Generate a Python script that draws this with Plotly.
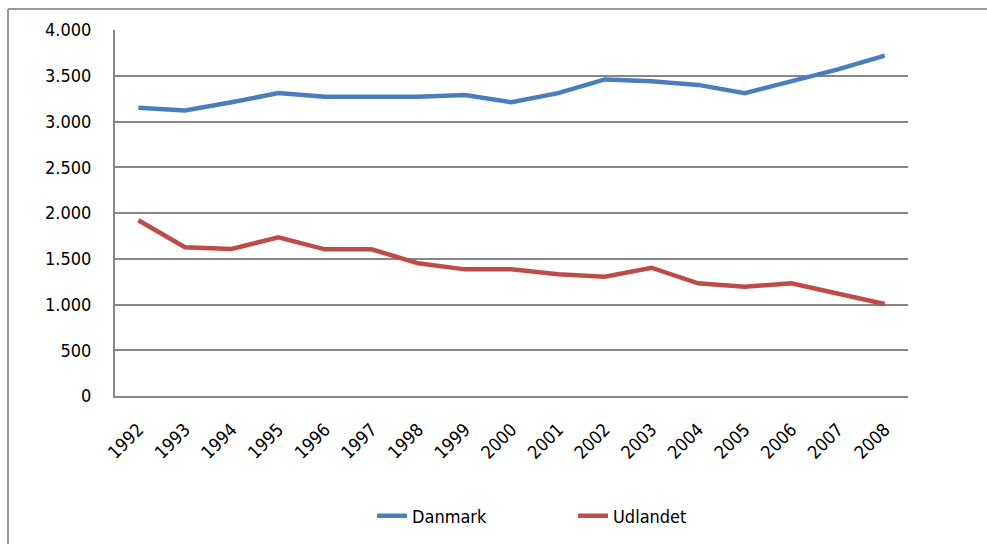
import plotly.graph_objects as go

years = [str(y) for y in range(1992, 2009)]
danmark = [3150, 3120, 3210, 3310, 3270, 3270, 3270, 3290, 3210, 3310, 3460, 3440, 3400, 3310, 3440, 3570, 3720]
udlandet = [1920, 1625, 1607, 1734, 1603, 1603, 1450, 1384, 1384, 1330, 1304, 1402, 1231, 1195, 1231, 1120, 1005]
y_ticks = [0, 500, 1000, 1500, 2000, 2500, 3000, 3500, 4000]

W, H = 987, 544
L, R, T, B = 115, 79, 30, 148
pw, ph = W - L - R, H - T - B

font = "DejaVu Sans Condensed"
grid = "#878787"

fig = go.Figure()
fig.add_trace(go.Scatter(x=years, y=danmark, name="Danmark", mode="lines",
                         line=dict(color="#4A7EBB", width=4.5)))
fig.add_trace(go.Scatter(x=years, y=udlandet, name="Udlandet", mode="lines",
                         line=dict(color="#BE4B48", width=4.5)))

fig.update_layout(
    width=W, height=H,
    margin=dict(l=L, r=R, t=T, b=B, autoexpand=False),
    paper_bgcolor="white", plot_bgcolor="white",
    separators=",.",
    font=dict(family=font, size=18, color="#000000"),
    showlegend=True,
    legend=dict(orientation="h", x=(372 - L) / pw, xanchor="left", y=(396 - 516) / ph, yanchor="middle",
                font=dict(size=18), tracegroupgap=0, entrywidth=156, entrywidthmode="pixels"),
    xaxis=dict(type="category", tickangle=-45, showgrid=False, showline=True,
               linecolor=grid, linewidth=2, ticks="", ticklabelstandoff=14,
               range=[-0.5, len(years) - 0.5]),
    yaxis=dict(range=[0, 4000], tickvals=y_ticks, tickformat=",d", showgrid=True,
               gridcolor=grid, gridwidth=1.5, showline=True, linecolor=grid, linewidth=2,
               ticks="", ticklabelstandoff=18, zeroline=False),
    shapes=[
        dict(type="line", xref="paper", yref="paper",
             x0=(8 - L) / pw, x1=(8 - L) / pw, y0=1 + (T - 9) / ph, y1=-(B + 10) / ph,
             line=dict(color="#999999", width=2)),
        dict(type="line", xref="paper", yref="paper",
             x0=(8 - L) / pw, x1=(W + 10 - L) / pw, y0=1 + (T - 9) / ph, y1=1 + (T - 9) / ph,
             line=dict(color="#999999", width=2)),
    ],
)

fig.write_html("out.html", config={"displayModeBar": False},
               post_script="document.body.style.margin='0';document.body.style.overflow='hidden';")
